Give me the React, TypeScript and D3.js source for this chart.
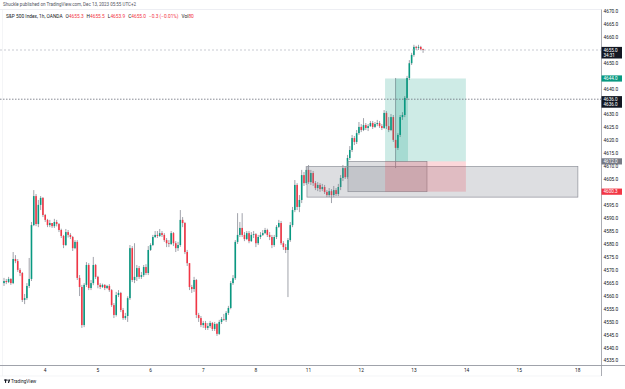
import React from 'react';
import * as d3 from 'd3';

// hourly candles, Dec 1 -> Dec 13 (open = previous close)
const firstOpen = 4565.0;
const closes = [
  // Dec 1
  4565.8, 4565.4, 4566.6, 4565.0, 4574.3, 4573.5, 4570.1, 4568.9, 4558.5, 4559.2, 4563.9, 4566.6, 4587.4, 4598.6, 4587.8, 4595.2, 4597.9, 4591.3,
  // Dec 4
  4589.4, 4587.4, 4588.2, 4587.0, 4588.6, 4587.8, 4585.5, 4583.2, 4579.7, 4584.7, 4583.6, 4582.8, 4578.5, 4580.9, 4567.0, 4563.5, 4548.8, 4564.3, 4572.0, 4563.1, 4565.0, 4572.0, 4567.4,
  // Dec 5
  4564.3, 4563.5, 4564.3, 4563.1, 4563.9, 4562.3, 4556.5, 4552.7, 4560.4, 4561.2, 4554.6, 4551.5, 4552.3, 4559.2, 4578.5, 4566.2, 4567.4, 4570.8, 4567.4, 4568.1, 4571.2, 4568.9, 4577.8,
  // Dec 6
  4579.7, 4582.8, 4583.6, 4583.2, 4584.3, 4583.6, 4581.6, 4580.4, 4580.1, 4584.3, 4580.4, 4578.5, 4579.7, 4589.4, 4588.2, 4577.0, 4572.7, 4563.5, 4562.7, 4566.2, 4552.7, 4551.5, 4548.8,
  // Dec 7
  4549.6, 4547.7, 4548.4, 4549.6, 4547.3, 4549.2, 4545.4, 4550.0, 4551.1, 4550.8, 4553.5, 4555.4, 4565.0, 4566.9, 4580.9, 4583.6, 4586.3, 4583.6, 4582.0, 4584.3, 4581.2, 4583.6, 4583.9,
  // Dec 8
  4580.4, 4582.8, 4583.6, 4584.3, 4585.5, 4583.6, 4582.8, 4579.7, 4582.8, 4586.7, 4588.2, 4580.4, 4578.9, 4577.8, 4581.6, 4587.4, 4593.2, 4602.9, 4594.4, 4597.1, 4606.7, 4603.6, 4608.7,
  // Dec 11
  4604.0, 4607.5, 4603.6, 4601.7, 4602.9, 4601.3, 4602.1, 4600.2, 4599.0, 4600.5, 4599.0, 4600.9, 4599.4, 4602.1, 4605.6, 4609.4, 4605.9, 4613.3, 4616.4, 4621.0, 4619.5, 4622.9, 4625.3,
  // Dec 12
  4624.1, 4626.0, 4624.9, 4625.6, 4626.8, 4625.3, 4626.4, 4626.8, 4625.6, 4624.9, 4630.7, 4625.6, 4624.1, 4629.1, 4620.3, 4617.2, 4622.2, 4629.1, 4629.9, 4636.5, 4644.2, 4649.9, 4653.1,
  // Dec 13
  4656.2, 4655.8, 4656.2, 4655.3, 4655.0,
];
const highs = [
  4567.0, 4566.6, 4567.4, 4566.9, 4577.0, 4575.8, 4574.3, 4570.8, 4569.3, 4560.8, 4565.0, 4574.7, 4588.6, 4600.9, 4599.4, 4597.1, 4598.6, 4598.2,
  4591.7, 4589.8, 4589.4, 4588.2, 4589.8, 4589.4, 4588.2, 4586.0, 4583.6, 4585.9, 4585.5, 4584.3, 4583.2, 4581.6, 4581.6, 4568.1, 4564.3, 4565.0, 4573.1, 4572.7, 4566.2, 4575.1, 4572.4,
  4567.8, 4565.0, 4564.8, 4564.6, 4564.3, 4564.6, 4562.7, 4557.3, 4561.6, 4562.3, 4561.6, 4555.4, 4553.5, 4559.9, 4579.7, 4579.3, 4580.4, 4572.0, 4571.6, 4569.3, 4572.0, 4572.3, 4579.3,
  4580.4, 4583.6, 4585.1, 4585.1, 4585.9, 4585.1, 4584.3, 4582.4, 4581.6, 4585.1, 4584.7, 4581.2, 4580.9, 4593.2, 4590.5, 4588.6, 4577.8, 4572.7, 4564.3, 4567.4, 4566.6, 4553.5, 4552.3,
  4550.4, 4550.4, 4549.6, 4550.4, 4550.0, 4550.0, 4549.6, 4550.8, 4551.9, 4553.1, 4554.2, 4556.2, 4565.8, 4568.1, 4581.6, 4592.0, 4588.6, 4592.0, 4584.7, 4585.1, 4585.1, 4584.7, 4585.1,
  4584.3, 4583.6, 4584.7, 4585.5, 4586.3, 4586.0, 4584.7, 4583.6, 4583.6, 4587.4, 4589.4, 4589.0, 4581.2, 4580.1, 4582.4, 4588.6, 4594.4, 4604.8, 4603.6, 4599.0, 4608.7, 4607.9, 4610.2,
  4610.6, 4608.7, 4608.3, 4604.4, 4604.0, 4603.6, 4603.3, 4602.9, 4600.9, 4601.7, 4601.3, 4602.5, 4601.7, 4603.3, 4606.7, 4610.6, 4610.2, 4614.5, 4617.9, 4622.2, 4621.8, 4624.1, 4627.2,
  4626.4, 4628.7, 4626.8, 4626.4, 4627.6, 4627.6, 4627.2, 4628.0, 4627.6, 4626.4, 4631.8, 4631.4, 4629.1, 4630.3, 4629.9, 4644.2, 4622.9, 4629.9, 4631.0, 4637.2, 4645.0, 4651.1, 4653.9,
  4657.0, 4656.6, 4657.0, 4656.6, 4655.5,
];
const lows = [
  4563.9, 4564.6, 4565.0, 4564.3, 4564.6, 4572.7, 4569.3, 4567.7, 4557.7, 4556.9, 4558.5, 4563.1, 4565.8, 4587.0, 4587.0, 4586.6, 4593.2, 4590.5,
  4588.6, 4586.6, 4586.6, 4586.3, 4586.3, 4586.9, 4584.7, 4582.4, 4578.5, 4579.3, 4582.6, 4582.0, 4577.4, 4578.1, 4566.2, 4560.0, 4547.7, 4548.0, 4563.5, 4562.3, 4562.3, 4564.2, 4566.6,
  4563.0, 4562.7, 4563.1, 4562.3, 4562.7, 4561.6, 4555.8, 4551.5, 4552.1, 4559.6, 4553.8, 4550.8, 4550.8, 4550.0, 4558.5, 4565.4, 4565.0, 4565.8, 4566.6, 4566.6, 4567.4, 4568.1, 4568.1,
  4577.4, 4579.3, 4582.4, 4582.4, 4582.8, 4582.8, 4580.9, 4578.9, 4578.9, 4579.7, 4579.3, 4577.0, 4577.4, 4579.0, 4586.6, 4576.2, 4571.6, 4562.3, 4561.2, 4561.6, 4551.5, 4550.0, 4548.0,
  4547.7, 4546.9, 4546.9, 4547.7, 4546.5, 4546.5, 4544.6, 4545.0, 4549.2, 4550.4, 4550.0, 4552.7, 4554.9, 4564.3, 4566.2, 4580.1, 4582.8, 4582.8, 4581.2, 4581.6, 4580.4, 4580.9, 4582.4,
  4578.9, 4579.7, 4582.0, 4583.2, 4583.9, 4582.8, 4581.6, 4578.5, 4579.0, 4582.0, 4586.3, 4579.7, 4577.8, 4576.6, 4559.6, 4580.9, 4586.6, 4592.4, 4593.2, 4592.4, 4595.9, 4602.5, 4602.9,
  4603.3, 4602.9, 4602.5, 4600.9, 4600.5, 4600.2, 4600.5, 4599.4, 4598.2, 4598.2, 4595.9, 4598.2, 4598.6, 4598.6, 4600.9, 4604.4, 4605.2, 4605.2, 4612.5, 4615.6, 4618.3, 4618.7, 4622.2,
  4623.3, 4623.7, 4624.1, 4623.7, 4625.3, 4624.5, 4624.9, 4625.6, 4624.9, 4624.1, 4624.5, 4624.5, 4623.3, 4623.7, 4619.5, 4609.4, 4616.4, 4621.4, 4628.0, 4629.1, 4635.7, 4643.4, 4649.2,
  4652.4, 4655.0, 4655.0, 4655.0, 4653.9,
];

// time axis: day labels and the bar index where each day starts
const dayLabels = ['4', '5', '6', '7', '8', '11', '12', '13', '14', '15', '18'];
const dayBars = [18, 41, 64, 87, 110, 133, 156, 179, 202, 225, 250.5];

// legend
const publishedText = 'Shuckle published on TradingView.com, Dec 13, 2023 05:55 UTC+2';
const symbolText = 'S&P 500 Index, 1h, OANDA';
const ohlcKeys = ['O', 'H', 'L', 'C'];
const ohlcValues = ['4655.3', '4655.5', '4653.9', '4655.0'];
const changeText = '\u22120.3 (\u22120.01%)';
const volumeValue = '80';

// price scale labels
const markerPrices = [4655.0, 4644.0, 4636.0, 4612.0, 4600.3];
const markerColors = ['#131722', '#089981', '#131722', '#787b86', '#f23645'];
const markerSubs = ['34:31', '', '4636.0', '', ''];
const hiddenTicks = [4655, 4645, 4635, 4600];

// drawings
const zoneBars = [[132.3, 250.6], [150.2, 184.7]];
const zonePrices = [[4610.0, 4598.2], [4612.0, 4600.3]];
const positionBars = [166.4, 201.7];
const positionPrices = [4644.0, 4612.0, 4600.3]; // target, entry, stop
const positionHitBars = [171.2, 176.4];
const lastPrice = 4655.0;
const linePrice = 4636.0;

const W = 625;
const H = 389;
const paneRight = 601;
const paneTop = 9.5;
const paneBottom = 365.5;
const UP = '#089981';
const DOWN = '#f23645';
const WICK = '#787b86';
const FONT = 'Roboto, "Liberation Sans", sans-serif';

export default function App() {
  const x = d3.scaleLinear().domain([0, 183]).range([4, 4 + 183 * 2.29]);
  const y = d3.scaleLinear().domain([4535, 4670]).range([360.8, 11.15]);

  const bars = closes.map((c, i) => {
    const o = i === 0 ? firstOpen : closes[i - 1];
    return { o, c, h: Math.max(highs[i], o, c), l: Math.min(lows[i], o, c) };
  });

  const priceTicks = d3.range(4535, 4671, 5).filter(p => !hiddenTicks.includes(p));
  const bw = 1.6;

  return (
    <svg width={W} height={H} style={{ position: 'absolute', left: 0, top: 0, background: '#fff' }} fontFamily={FONT}>
      <rect x={0} y={0} width={W} height={H} fill="#fff" />

      {/* pane borders */}
      <line x1={0} x2={W} y1={paneTop} y2={paneTop} stroke="#e0e3eb" strokeWidth={0.6} />
      <line x1={2.5} x2={2.5} y1={paneTop} y2={376} stroke="#eceef2" strokeWidth={0.6} />

      {/* candles */}
      <g>
        {bars.map((b, i) => (
          <line key={'w' + i} x1={x(i)} x2={x(i)} y1={y(b.h)} y2={y(b.l)} stroke={WICK} strokeWidth={0.7} />
        ))}
        {bars.map((b, i) => {
          const top = y(Math.max(b.o, b.c));
          const bot = y(Math.min(b.o, b.c));
          return (
            <rect key={'b' + i} x={x(i) - bw / 2} y={top} width={bw} height={Math.max(0.7, bot - top)}
              fill={b.c >= b.o ? UP : DOWN} />
          );
        })}
      </g>

      {/* rectangles */}
      {zoneBars.map((zb, k) => (
        <rect key={'z' + k} x={x(zb[0])} y={y(zonePrices[k][0])} width={x(zb[1]) - x(zb[0])}
          height={y(zonePrices[k][1]) - y(zonePrices[k][0])}
          fill="rgba(120,123,134,0.25)" stroke="#8e9099" strokeWidth={0.7} />
      ))}

      {/* long position */}
      <rect x={x(positionBars[0])} y={y(positionPrices[0])} width={x(positionBars[1]) - x(positionBars[0])}
        height={y(positionPrices[1]) - y(positionPrices[0])} fill="rgba(8,153,129,0.2)" />
      <rect x={x(positionBars[0])} y={y(positionPrices[1])} width={x(positionBars[1]) - x(positionBars[0])}
        height={y(positionPrices[2]) - y(positionPrices[1])} fill="rgba(242,54,69,0.2)" />
      <rect x={x(positionHitBars[0])} y={y(positionPrices[0])} width={x(positionHitBars[1]) - x(positionHitBars[0])}
        height={y(positionPrices[1]) - y(positionPrices[0])} fill="rgba(8,153,129,0.2)" />

      {/* price lines */}
      <line x1={0} x2={paneRight} y1={y(lastPrice)} y2={y(lastPrice)} stroke="#b2b5be" strokeWidth={0.7} strokeDasharray="2,2" />
      <line x1={0} x2={paneRight} y1={y(linePrice)} y2={y(linePrice)} stroke="#6a6d78" strokeWidth={0.8} strokeDasharray="1.5,1.5" />

      {/* price axis */}
      <rect x={paneRight} y={0} width={W - paneRight} height={376} fill="#fff" />
      <line x1={paneRight + 0.5} x2={paneRight + 0.5} y1={paneTop} y2={376} stroke="#9598a1" strokeWidth={0.8} />
      {priceTicks.map(p => (
        <text key={'p' + p} x={603.5} y={y(p)} dy="0.35em" fontSize={4.8} fill="#131722">{p.toFixed(1)}</text>
      ))}
      {markerPrices.map((p, k) => {
        const two = markerSubs[k] !== '';
        return (
          <g key={'m' + k}>
            <rect x={paneRight + 0.5} y={y(p) - 3.1} width={20.5} height={two ? 11.6 : 6.2} fill={markerColors[k]} />
            <text x={603.5} y={y(p)} dy="0.35em" fontSize={4.6} fill="#fff">{p.toFixed(1)}</text>
            {two && <text x={603.5} y={y(p) + 5.5} dy="0.35em" fontSize={4.6} fill="#fff">{markerSubs[k]}</text>}
          </g>
        );
      })}

      {/* time axis */}
      <line x1={0} x2={W} y1={paneBottom} y2={paneBottom} stroke="#9598a1" strokeWidth={0.9} />
      <line x1={0} x2={paneRight} y1={376} y2={376} stroke="#eceef2" strokeWidth={0.6} />
      {dayLabels.map((d, k) => (
        <text key={'d' + d} x={x(dayBars[k])} y={371.5} textAnchor="middle" fontSize={4.8} fill="#131722">{d}</text>
      ))}

      {/* legend */}
      <text x={3} y={6.3} fontSize={4.5} fill="#50535e">{publishedText}</text>
      <text x={6} y={18.3} fontSize={4.8} fill="#131722">
        <tspan>{symbolText}</tspan>
        {ohlcKeys.map((k, i) => (
          <React.Fragment key={k}>
            <tspan dx={3}>{k}</tspan>
            <tspan fill={DOWN}>{ohlcValues[i]}</tspan>
          </React.Fragment>
        ))}
        <tspan dx={3} fill={DOWN}>{changeText}</tspan>
        <tspan dx={3}>Vol</tspan>
        <tspan fill={DOWN}>{volumeValue}</tspan>
      </text>

      {/* logo */}
      <g transform="translate(4,379.5)" fill="#131722">
        <rect x={0} y={0} width={3} height={1.1} />
        <rect x={1} y={0} width={1.1} height={3.4} />
        <circle cx={3.8} cy={0.6} r={0.6} />
        <path d="M4.6 0 L6.3 0 L5.0 3.4 L3.9 3.4 Z" />
      </g>
      <text x={11} y={383} fontSize={4.6} fill="#131722">TradingView</text>
    </svg>
  );
}
